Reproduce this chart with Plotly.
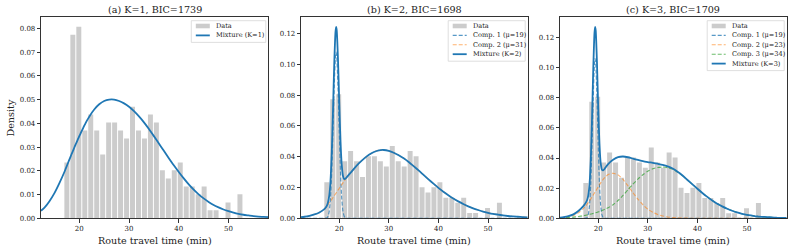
import plotly.graph_objects as go

# ---------------- data ----------------
BIN_CENTERS = [17.5, 18.7, 19.9, 21.1, 22.3, 23.5, 24.7, 25.9, 27.1, 28.3,
               29.5, 30.7, 31.9, 33.1, 34.3, 35.5, 36.7, 37.9, 39.1, 40.3,
               41.5, 42.7, 43.9, 45.1, 46.3, 47.5, 48.7, 49.9, 51.1, 52.3]
DENSITY = [0.0235, 0.0773, 0.0806, 0.0370, 0.0437, 0.0370, 0.0269, 0.0403, 0.0403, 0.0370,
           0.0336, 0.0470, 0.0370, 0.0336, 0.0437, 0.0403, 0.0202, 0.0168, 0.0202, 0.0235,
           0.0134, 0.0134, 0.0101, 0.0134, 0.0034, 0.0034, 0.0, 0.0067, 0.0, 0.0101]

X_CURVE = [12.3, 13, 14, 15, 16, 17, 17.25, 17.5, 17.75, 18, 18.25, 18.5, 18.75, 19,
           19.25, 19.375, 19.5, 19.75, 20, 20.25, 20.5, 20.75, 21, 21.25, 21.5, 22,
           23, 24, 25, 26, 27, 28, 29, 30, 31, 32, 33, 34, 35, 36, 37, 38, 39, 40,
           41, 42, 43, 44, 45, 46, 47, 48, 49, 50, 51, 52, 53, 54, 55, 56, 57, 58]

# (a) K=1
MIX_K1 = [0.0032, 0.0045, 0.0072, 0.0106, 0.0148, 0.0195, 0.0208, 0.0221, 0.0234, 0.0247,
          0.0260, 0.0273, 0.0285, 0.0298, 0.0310, 0.0316, 0.0322, 0.0334, 0.0346, 0.0357,
          0.0368, 0.0379, 0.0390, 0.0400, 0.0410, 0.0428, 0.0458, 0.0480, 0.0494, 0.0500,
          0.0500, 0.0494, 0.0484, 0.0470, 0.0451, 0.0429, 0.0404, 0.0376, 0.0346, 0.0315,
          0.0284, 0.0253, 0.0223, 0.0195, 0.0168, 0.0143, 0.0121, 0.0101, 0.0084, 0.0069,
          0.0056, 0.0046, 0.0037, 0.0030, 0.0024, 0.0019, 0.0015, 0.0012, 0.0009, 0.0007,
          0.0006, 0.0005]

# (b) K=2
K2_COMP1 = [0, 0, 0, 0, 0, 0, 0.0001, 0.0003, 0.0014, 0.0047, 0.0134, 0.0305, 0.0567, 0.0856,
            0.1052, 0.1080, 0.1052, 0.0856, 0.0567, 0.0305, 0.0134, 0.0047, 0.0014, 0.0003,
            0.0001, 0, 0, 0, 0, 0, 0, 0, 0, 0, 0, 0, 0, 0, 0, 0, 0, 0, 0, 0,
            0, 0, 0, 0, 0, 0, 0, 0, 0, 0, 0, 0, 0, 0, 0, 0, 0, 0]
K2_COMP2 = [0.0007, 0.0010, 0.0016, 0.0025, 0.0038, 0.0060, 0.0068, 0.0078, 0.0090, 0.0102,
            0.0112, 0.0123, 0.0135, 0.0147, 0.0158, 0.0164, 0.0170, 0.0182, 0.0194, 0.0206,
            0.0218, 0.0230, 0.0242, 0.0254, 0.0265, 0.0285, 0.0323, 0.0358, 0.0388, 0.0413,
            0.0431, 0.0442, 0.0444, 0.0438, 0.0426, 0.0410, 0.0390, 0.0366, 0.0339, 0.0311,
            0.0282, 0.0253, 0.0225, 0.0198, 0.0173, 0.0150, 0.0129, 0.0110, 0.0093, 0.0078,
            0.0065, 0.0054, 0.0044, 0.0036, 0.0029, 0.0024, 0.0019, 0.0015, 0.0012, 0.0010,
            0.0008, 0.0006]
MIX_K2 = [0.0007, 0.0010, 0.0016, 0.0025, 0.0038, 0.0060, 0.0069, 0.0081, 0.0104, 0.0149,
          0.0246, 0.0428, 0.0702, 0.1003, 0.1210, 0.1244, 0.1222, 0.1038, 0.0761, 0.0511,
          0.0352, 0.0277, 0.0256, 0.0257, 0.0266, 0.0285, 0.0323, 0.0358, 0.0388, 0.0413,
          0.0431, 0.0442, 0.0444, 0.0438, 0.0426, 0.0410, 0.0390, 0.0366, 0.0339, 0.0311,
          0.0282, 0.0253, 0.0225, 0.0198, 0.0173, 0.0150, 0.0129, 0.0110, 0.0093, 0.0078,
          0.0065, 0.0054, 0.0044, 0.0036, 0.0029, 0.0024, 0.0019, 0.0015, 0.0012, 0.0010,
          0.0008, 0.0006]

# (c) K=3
K3_COMP1 = [0, 0, 0, 0, 0, 0, 0, 0.0001, 0.0005, 0.0024, 0.0084, 0.0229, 0.0486, 0.0800,
            0.1027, 0.1060, 0.1027, 0.0800, 0.0486, 0.0229, 0.0084, 0.0024, 0.0005, 0.0001,
            0, 0, 0, 0, 0, 0, 0, 0, 0, 0, 0, 0, 0, 0, 0, 0, 0, 0, 0, 0,
            0, 0, 0, 0, 0, 0, 0, 0, 0, 0, 0, 0, 0, 0, 0, 0, 0, 0]
K3_COMP2 = [0.0002, 0.0004, 0.0009, 0.0018, 0.0036, 0.0064, 0.0073, 0.0083, 0.0093, 0.0104,
            0.0116, 0.0128, 0.0141, 0.0154, 0.0168, 0.0175, 0.0181, 0.0195, 0.0209, 0.0222,
            0.0235, 0.0247, 0.0258, 0.0267, 0.0276, 0.0290, 0.0299, 0.0288, 0.0258, 0.0215,
            0.0170, 0.0127, 0.0090, 0.0061, 0.0040, 0.0025, 0.0015, 0.0009, 0.0005, 0.0003,
            0.0002, 0.0001, 0, 0, 0, 0, 0, 0, 0, 0,
            0, 0, 0, 0, 0, 0, 0, 0, 0, 0, 0, 0]
K3_COMP3 = [0.0002, 0.0003, 0.0005, 0.0008, 0.0012, 0.0017, 0.0019, 0.0020, 0.0022, 0.0024,
            0.0026, 0.0028, 0.0030, 0.0032, 0.0034, 0.0035, 0.0037, 0.0039, 0.0042, 0.0045,
            0.0048, 0.0051, 0.0055, 0.0058, 0.0062, 0.0070, 0.0090, 0.0118, 0.0152, 0.0190,
            0.0226, 0.0260, 0.0289, 0.0312, 0.0328, 0.0337, 0.0340, 0.0336, 0.0325, 0.0306,
            0.0282, 0.0254, 0.0225, 0.0196, 0.0168, 0.0142, 0.0118, 0.0097, 0.0079, 0.0063,
            0.0050, 0.0039, 0.0030, 0.0023, 0.0018, 0.0013, 0.0010, 0.0008, 0.0006, 0.0004,
            0.0003, 0.0002]
MIX_K3 = [0.0004, 0.0007, 0.0014, 0.0026, 0.0048, 0.0081, 0.0092, 0.0104, 0.0120, 0.0152,
          0.0226, 0.0385, 0.0657, 0.0986, 0.1229, 0.1270, 0.1245, 0.1034, 0.0737, 0.0496,
          0.0367, 0.0322, 0.0318, 0.0326, 0.0338, 0.0360, 0.0389, 0.0406, 0.0410, 0.0405,
          0.0396, 0.0387, 0.0379, 0.0373, 0.0368, 0.0362, 0.0355, 0.0345, 0.0330, 0.0309,
          0.0284, 0.0254, 0.0225, 0.0196, 0.0168, 0.0142, 0.0118, 0.0097, 0.0079, 0.0063,
          0.0050, 0.0039, 0.0030, 0.0023, 0.0018, 0.0013, 0.0010, 0.0008, 0.0006, 0.0004,
          0.0003, 0.0002]

TITLES = ["(a) K=1, BIC=1739", "(b) K=2, BIC=1698", "(c) K=3, BIC=1709"]
X_TICKS = [20, 30, 40, 50]
X_LABEL = "Route travel time (min)"
Y_LABEL = "Density"

# ---------------- styling ----------------
W, H = 793, 250
FONT = "DejaVu Serif"
C_MIX = "#1f77b4"
C_BAR = "#cccccc"
C_COMP = ["rgba(31,119,180,0.75)", "rgba(255,127,14,0.6)", "rgba(44,160,44,0.7)"]
DASH = "4px,2px"


def fx(px):
    return px / W


def fy(py):
    return 1 - py / H


TOP, BOTTOM = 17.3, 218.3
PANEL_X = [(41.0, 268.3), (301.0, 527.7), (560.0, 786.7)]

panels = [
    dict(comps=[], mix=MIX_K1, mix_name="Mixture (K=1)", dtick=0.01),
    dict(comps=[(K2_COMP1, "Comp. 1 (μ=19)"), (K2_COMP2, "Comp. 2 (μ=31)")],
         mix=MIX_K2, mix_name="Mixture (K=2)", dtick=0.02),
    dict(comps=[(K3_COMP1, "Comp. 1 (μ=19)"), (K3_COMP2, "Comp. 2 (μ=23)"),
                (K3_COMP3, "Comp. 3 (μ=34)")],
         mix=MIX_K3, mix_name="Mixture (K=3)", dtick=0.02),
]

fig = go.Figure()
layout = dict(
    width=W, height=H, margin=dict(l=0, r=0, t=0, b=0),
    paper_bgcolor="white", plot_bgcolor="white", showlegend=False,
    font=dict(family=FONT, color="#222"),
)
shapes = []
annotations = []

for i, p in enumerate(panels):
    sfx = "" if i == 0 else str(i + 1)
    xa, ya = "x" + sfx, "y" + sfx
    fig.add_trace(go.Bar(x=BIN_CENTERS, y=DENSITY, width=1.0, name="Data",
                         marker=dict(color=C_BAR, line=dict(width=0)),
                         xaxis=xa, yaxis=ya))
    for j, (vals, name) in enumerate(p["comps"]):
        fig.add_trace(go.Scatter(x=X_CURVE, y=vals, mode="lines", name=name,
                                 line=dict(color=C_COMP[j], width=1.1, dash=DASH,
                                           shape="spline", smoothing=0.6),
                                 xaxis=xa, yaxis=ya))
    fig.add_trace(go.Scatter(x=X_CURVE, y=p["mix"], mode="lines", name=p["mix_name"],
                             line=dict(color=C_MIX, width=1.8, shape="spline", smoothing=0.6),
                             xaxis=xa, yaxis=ya))

    ymax = max(max(DENSITY), max(p["mix"])) * 1.05
    x0, x1 = PANEL_X[i]
    axis_common = dict(showline=True, linecolor="black", linewidth=0.8, mirror=True,
                       ticks="outside", ticklen=3.5, tickwidth=0.8, tickcolor="black",
                       tickfont=dict(family=FONT, size=7, color="#222"),
                       showgrid=False, zeroline=False, automargin=False)
    layout["xaxis" + sfx] = dict(axis_common, domain=[fx(x0), fx(x1)], anchor=ya,
                                 range=[min(X_CURVE), max(X_CURVE)], tickvals=X_TICKS)
    layout["yaxis" + sfx] = dict(axis_common, domain=[fy(BOTTOM), fy(TOP)], anchor=xa,
                                 range=[0, ymax], dtick=p["dtick"], tick0=0,
                                 tickformat=".2f")

    # titles and axis labels
    annotations.append(dict(text=TITLES[i], xref="paper", yref="paper",
                            x=fx((x0 + x1) / 2), y=fy(9.8), xanchor="center",
                            yanchor="middle", showarrow=False,
                            font=dict(family=FONT, size=9.6, color="#222")))
    annotations.append(dict(text=X_LABEL, xref="paper", yref="paper",
                            x=fx((x0 + x1) / 2), y=fy(240), xanchor="center",
                            yanchor="middle", showarrow=False,
                            font=dict(family=FONT, size=9.6, color="#222")))

    # legend (drawn box + handles + text)
    entries = [("Data", "patch", C_BAR)]
    for j, (_, name) in enumerate(p["comps"]):
        entries.append((name, "dash", C_COMP[j]))
    entries.append((p["mix_name"], "solid", C_MIX))
    box_w = 74.5 if i == 0 else 77.0
    bx1 = x1 - 2.5
    bx0 = bx1 - box_w
    by0 = TOP + 3.4
    row0, pitch = 26.0, 9.4
    by1 = row0 + pitch * (len(entries) - 1) + 7.0
    shapes.append(dict(type="rect", xref="paper", yref="paper",
                       x0=fx(bx0), x1=fx(bx1), y0=fy(by1), y1=fy(by0),
                       line=dict(color="#d5d5d5", width=0.8),
                       fillcolor="rgba(255,255,255,0.85)", layer="above"))
    for k, (label, kind, col) in enumerate(entries):
        ry = row0 + pitch * k
        hx0, hx1 = bx0 + 4.5, bx0 + 18.5
        if kind == "patch":
            shapes.append(dict(type="rect", xref="paper", yref="paper",
                               x0=fx(hx0), x1=fx(hx1), y0=fy(ry + 2.3), y1=fy(ry - 2.3),
                               line=dict(width=0), fillcolor=col, layer="above"))
        else:
            shapes.append(dict(type="line", xref="paper", yref="paper",
                               x0=fx(hx0), x1=fx(hx1), y0=fy(ry), y1=fy(ry),
                               line=dict(color=col, width=1.8 if kind == "solid" else 1.1,
                                         dash="solid" if kind == "solid" else DASH),
                               layer="above"))
        annotations.append(dict(text=label, xref="paper", yref="paper",
                                x=fx(bx0 + 22.5), y=fy(ry), xanchor="left",
                                yanchor="middle", showarrow=False,
                                font=dict(family=FONT, size=6.6, color="#222")))

annotations.append(dict(text=Y_LABEL, xref="paper", yref="paper", x=fx(10.7),
                        y=fy((TOP + BOTTOM) / 2), xanchor="center", yanchor="middle",
                        textangle=-90, showarrow=False,
                        font=dict(family=FONT, size=9.6, color="#222")))

layout["shapes"] = shapes
layout["annotations"] = annotations
fig.update_layout(**layout)
fig.write_html("out.html",
               config={"displayModeBar": False, "staticPlot": True},
               post_script="document.body.style.margin='0';"
                           "document.body.style.overflow='hidden';")
